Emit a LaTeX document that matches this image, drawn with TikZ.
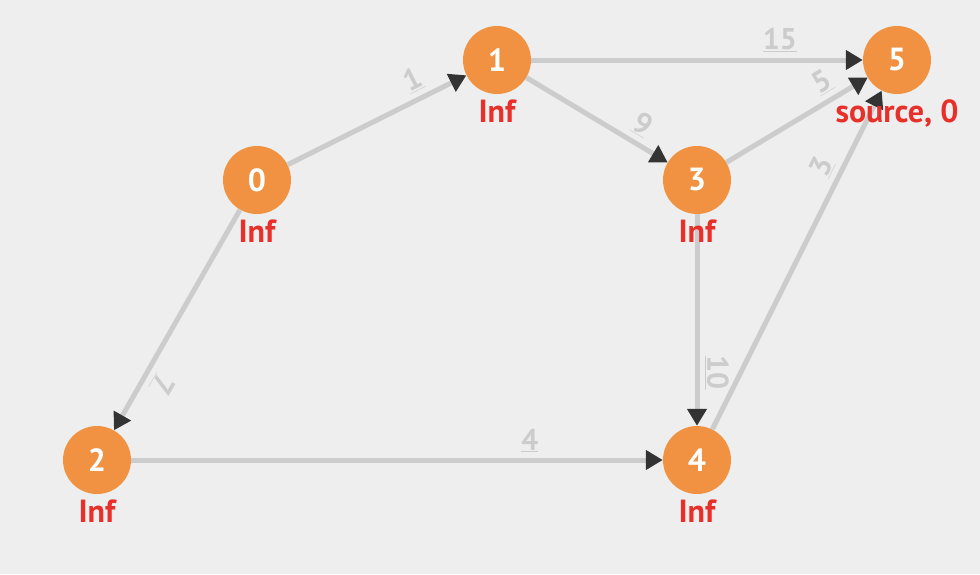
\documentclass[tikz,border=0pt]{standalone}
\usepackage{fontspec}
\setmainfont{PT Sans}
\usetikzlibrary{arrows.meta, positioning}
\definecolor{bggray}{HTML}{EEEEEE}
\definecolor{vtxorange}{HTML}{F09242}
\definecolor{distred}{HTML}{E8302A}
\definecolor{edgegray}{HTML}{CCCCCC}
\definecolor{tipdark}{HTML}{333333}

\begin{document}
\begin{tikzpicture}[x=1pt, y=-1pt, node distance=4pt,
   vertex/.style={circle, fill=vtxorange, minimum size=68pt, inner sep=0pt, text=white, font=\fontsize{32}{34}\selectfont\bfseries},
   dist/.style={text=distred, inner sep=1pt, font=\fontsize{32}{34}\selectfont\bfseries},
   edge/.style={draw=edgegray, line width=5pt, -{Triangle[length=17pt, width=19pt, color=tipdark]}},
   weight/.style={pos=0.75, sloped, allow upside down, above=2pt, text=edgegray, font=\fontsize{30}{32}\selectfont\bfseries}]
   \fill[bggray] (0,0) rectangle (980,574);
   \useasboundingbox (0,0) rectangle (980,574);

   \node[vertex] (v0) at (257,180) {0};
   \node[vertex] (v1) at (497,60) {1};
   \node[vertex] (v2) at (97,460) {2};
   \node[vertex] (v3) at (697,180) {3};
   \node[vertex] (v4) at (697,460) {4};
   \node[vertex] (v5) at (897,60) {5};

   \draw[edge] (v0) -- node[weight] {\underline{1}} (v1);
   \draw[edge] (v0) -- node[weight] {\underline{7}} (v2);
   \draw[edge] (v1) -- node[weight] {\underline{15}} (v5);
   \draw[edge] (v1) -- node[weight] {\underline{9}} (v3);
   \draw[edge] (v3) -- node[weight] {\underline{5}} (v5);
   \draw[edge] (v3) -- node[weight] {\underline{10}} (v4);
   \draw[edge] (v2) -- node[weight] {\underline{4}} (v4);
   \draw[edge] (v4) -- node[weight] {\underline{3}} (v5);

   % distances
   \node[dist, below=of v0] (d0) {Inf};
   \node[dist, below=of v1] (d1) {Inf};
   \node[dist, below=of v2] (d2) {Inf};
   \node[dist, below=of v3] (d3) {Inf};
   \node[dist, below=of v4] (d4) {Inf};
   \node[dist, below=of v5] (d5) {source, 0};
\end{tikzpicture}
\end{document}
